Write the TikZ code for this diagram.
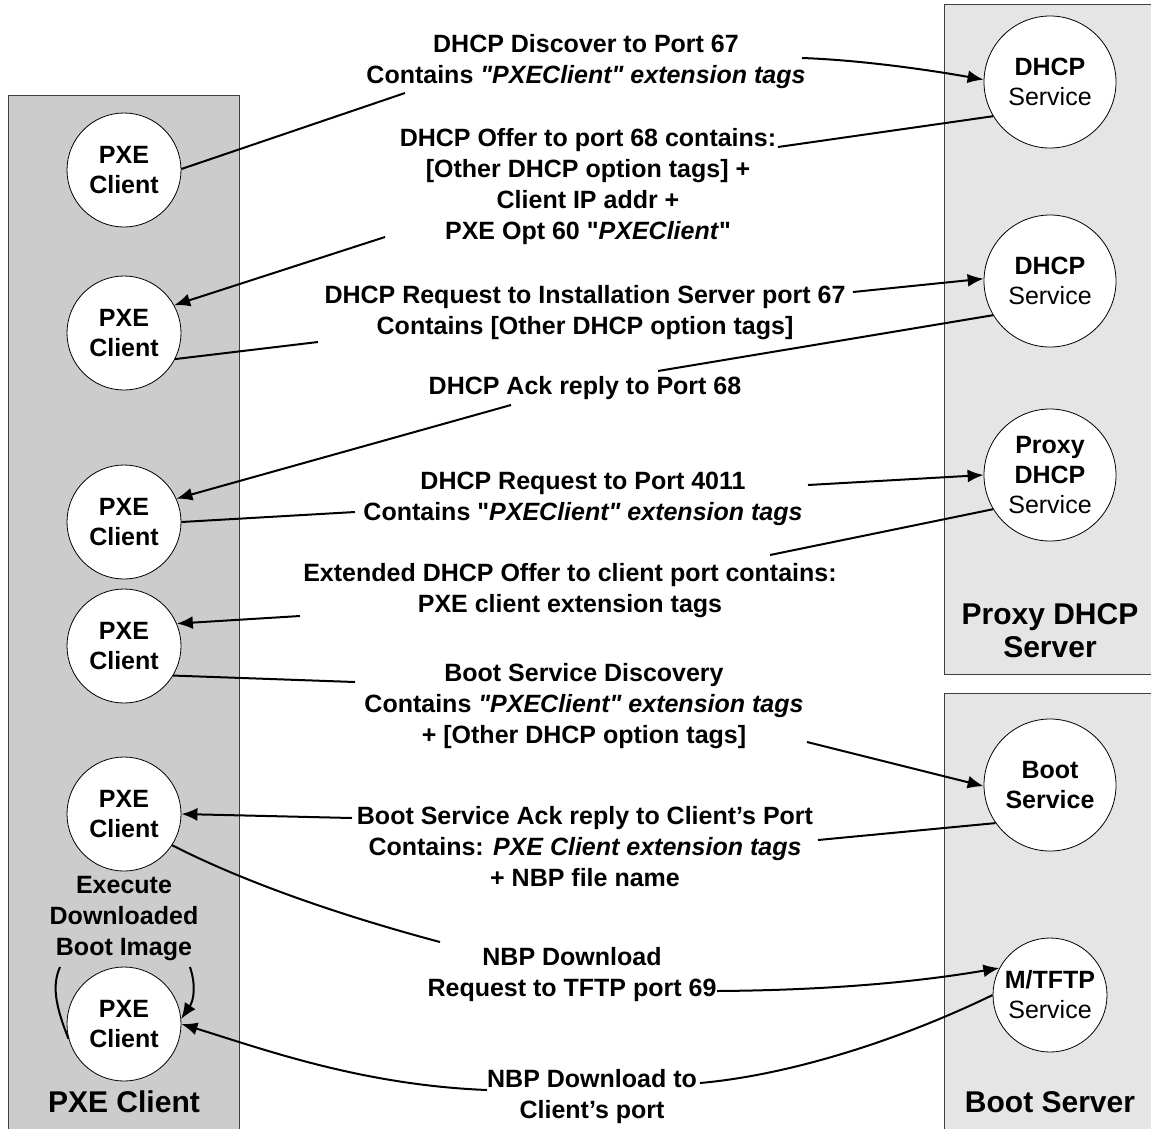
\documentclass[tikz,border=0pt]{standalone}
\usepackage{fontspec}
% no TeX quote mapping: straight double quotes stay straight
\setmainfont{Liberation Sans}[Ligatures=TeXOff]
\usetikzlibrary{arrows.meta}
\begin{document}
\begin{tikzpicture}[x=1pt,y=-1pt,
  panelL/.style={draw=black!75,fill=black!20,line width=1pt},
  panelR/.style={draw=black!75,fill=black!10,line width=1pt},
  client/.style={circle,draw,fill=white,line width=0.8pt,minimum size=114pt,inner sep=0pt,align=center,
    font=\fontsize{25}{30}\selectfont\bfseries},
  service/.style={circle,draw,fill=white,line width=0.8pt,minimum size=132pt,inner sep=0pt,align=center,
    font=\fontsize{25}{30}\selectfont},
  msg/.style={align=center,inner sep=0pt,font=\fontsize{25}{31}\selectfont\bfseries},
  title/.style={align=center,inner sep=0pt,font=\fontsize{30}{33}\selectfont\bfseries},
  flow/.style={line width=2pt},
  arr/.style={flow,-{Latex[length=16pt,width=13pt]}}
]
\clip (0,0) rectangle (1151,1128);
\fill[white] (0,0) rectangle (1151,1128);

% server and client columns
\path[panelL] (8,95) rectangle (239,1140);
\path[panelR] (944,4) rectangle (1160,674);
\path[panelR] (944,693) rectangle (1160,1140);

% client states
\node[client] (pxe1) at (124,170) {PXE\\Client};
\node[client] (pxe2) at (124,333) {PXE\\Client};
\node[client] (pxe3) at (124,522) {PXE\\Client};
\node[client] (pxe4) at (124,646) {PXE\\Client};
\node[client] (pxe5) at (124,814) {PXE\\Client};
\node[client] (pxe6) at (124,1024) {PXE\\Client};

% services
\node[service] (dhcp1) at (1050,82) {\textbf{DHCP}\\Service};
\node[service] (dhcp2) at (1050,281) {\textbf{DHCP}\\Service};
\node[service] (proxy) at (1050,475) {\textbf{Proxy}\\\textbf{DHCP}\\Service};
\node[service] (boot) at (1050,785) {\textbf{Boot}\\\textbf{Service}};
\node[service,minimum size=114pt] (tftp) at (1050,995) {\textbf{M/TFTP}\\Service};

% column titles
\node[title] (tclient) at (124,1102) {PXE Client};
\node[title] (tproxy) at (1050,631) {Proxy DHCP\\Server};
\node[title] (tboot) at (1050,1102) {Boot Server};
\node[msg] (exec) at (124,919) {Execute\\Downloaded\\Boot Image};

% message texts
\node[msg] (m1) at (586,62) {DHCP Discover to Port 67\\Contains \textit{"PXEClient" extension tags}};
\node[msg] (m2) at (588,187) {DHCP Offer to port 68 contains:\\{[Other DHCP option tags] +}\\Client IP addr +\\PXE Opt 60 "\textit{PXEClient}"};
\node[msg] (m3) at (585,313) {DHCP Request to Installation Server port 67\\Contains [Other DHCP option tags]};
\node[msg] (m4) at (585,388) {DHCP Ack reply to Port 68};
\node[msg] (m5) at (583,499) {DHCP Request to Port 4011\\Contains "\textit{PXEClient" extension tags}};
\node[msg] (m6) at (570,591) {Extended DHCP Offer to client port contains:\\PXE client extension tags};
\node[msg] (m7) at (584,706) {Boot Service Discovery\\Contains \textit{"PXEClient" extension tags}\\+ [Other DHCP option tags]};
\node[msg] (m8) at (585,847) {Boot Service Ack reply to Client’s Port\\Contains: \textit{PXE Client extension tags}\\+ NBP file name};
\node[msg] (m9) at (572,975) {NBP Download\\Request to TFTP port 69};
\node[msg] (m10) at (592,1097) {NBP Download to\\Client’s port};

% free ends of the connectors beside the texts
\coordinate (a1) at (405,93);   \coordinate (b1) at (802,58);
\coordinate (a2) at (778,147);  \coordinate (b2) at (385,237);
\coordinate (a3) at (318,342);  \coordinate (b3) at (853,292);
\coordinate (a4) at (658,371);  \coordinate (b4) at (511,405);
\coordinate (a5) at (355,512);  \coordinate (b5) at (808,485);
\coordinate (a6) at (770,555);  \coordinate (b6) at (300,616);
\coordinate (a7) at (355,682);  \coordinate (b7) at (807,742);
\coordinate (a8) at (818,840);  \coordinate (b8) at (352,818);
\coordinate (a9) at (440,942);  \coordinate (b9) at (717,991);
\coordinate (a10) at (700,1083); \coordinate (b10) at (487,1090);
\coordinate (e1) at (60,967);   \coordinate (e2) at (190,967);

% message flow
\draw[flow] (pxe1.1) -- (a1);
\draw[arr] (b1) .. controls (860,60) and (930,70) .. (dhcp1.178);
\draw[flow] (dhcp1.211) -- (a2);
\draw[arr] (b2) -- (pxe2.29);
\draw[flow] (pxe2.-27) -- (a3);
\draw[arr] (b3) -- (dhcp2.178);
\draw[flow] (dhcp2.211) -- (a4);
\draw[arr] (b4) -- (pxe3.24);
\draw[flow] (pxe3.0) -- (a5);
\draw[arr] (b5) -- (proxy.180);
\draw[flow] (proxy.211) -- (a6);
\draw[arr] (b6) -- (pxe4.23);
\draw[flow] (pxe4.-31) -- (a7);
\draw[arr] (b7) -- (boot.181);
\draw[flow] (boot.215) -- (a8);
\draw[arr] (b8) -- (pxe5.0);
\draw[flow] (pxe5.-33) .. controls (250,885) and (350,918) .. (a9);
\draw[arr] (b9) .. controls (855,990) and (940,978) .. (tftp.152);
\draw[flow] (tftp.180) .. controls (900,1040) and (790,1075) .. (a10);
\draw[arr] (b10) .. controls (360,1085) and (260,1048) .. (pxe6.0);

% boot image execution loop
\draw[flow] (pxe6.195) .. controls (55,1005) and (52,985) .. (e1);
\draw[arr] (e2) .. controls (196,985) and (194,1000) .. (pxe6.5);
\end{tikzpicture}
\end{document}
